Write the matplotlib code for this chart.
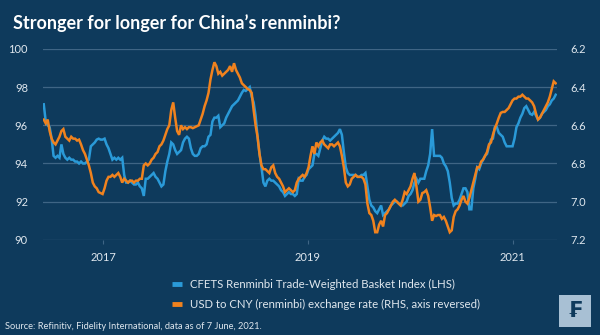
import matplotlib
matplotlib.use("Agg")
import matplotlib.pyplot as plt
import matplotlib.patches as mpatches
from matplotlib.lines import Line2D
import pandas as pd

# ---------------- data ----------------
dates = pd.date_range("2016-06-03", "2021-06-04", freq="W-FRI")

cfets = [
    97.1, 96.2, 96.0, 95.9, 95.3, 94.4, 94.3, 94.4, 94.3, 95.0,
    94.5, 94.3, 94.2, 94.3, 94.2, 94.2, 94.1, 94.1, 94.0, 94.1,
    94.0, 94.0, 94.1, 94.2, 94.9, 95.0, 95.1, 95.25, 95.3, 95.25,
    95.25, 95.3, 95.0, 94.8, 94.5, 94.2, 94.3, 94.2, 94.3, 94.2,
    94.3, 93.4, 93.0, 93.0, 93.1, 93.0, 92.9, 92.9, 93.0, 92.8,
    92.7, 92.3, 93.2, 93.2, 93.3, 93.4, 93.5, 93.3, 93.2, 93.0,
    92.8, 92.9, 93.6, 94.1, 94.5, 95.1, 95.0, 94.7, 94.5, 94.6,
    94.7, 95.1, 95.3, 95.4, 95.3, 94.8, 94.5, 94.4, 94.4, 94.5,
    94.8, 94.9, 94.9, 95.0, 95.4, 95.5, 96.2, 96.4, 96.4, 96.5,
    95.9, 96.0, 96.1, 96.4, 96.6, 96.8, 97.0, 97.1, 97.2, 97.3,
    97.5, 97.7, 97.85, 97.8, 97.9, 98.0, 97.5, 97.2, 96.5, 95.4,
    94.5, 93.8, 93.0, 92.8, 93.1, 93.2, 93.1, 93.1, 93.0, 92.9,
    92.8, 92.6, 92.5, 92.3, 92.4, 92.5, 92.4, 92.4, 92.3, 92.4,
    93.2, 93.1, 93.1, 93.3, 93.4, 93.7, 93.8, 93.9, 94.5, 94.5,
    94.4, 94.8, 95.2, 95.4, 95.3, 95.3, 95.2, 95.3, 95.4, 95.5,
    95.6, 95.8, 95.5, 94.6, 93.8, 93.5, 93.4, 93.4, 93.4, 93.4,
    93.3, 93.3, 93.4, 93.4, 93.5, 92.8, 92.1, 91.8, 91.7, 91.5,
    91.4, 91.6, 91.8, 91.3, 91.4, 91.5, 91.6, 91.8, 91.9, 92.0,
    92.0, 91.9, 91.8, 91.8, 91.9, 92.0, 92.3, 92.4, 92.6, 93.0,
    93.2, 93.0, 93.2, 93.2, 93.2, 93.6, 93.9, 94.5, 95.8, 94.4,
    94.4, 94.4, 94.4, 94.3, 94.0, 93.85, 93.6, 93.0, 92.2, 91.8,
    91.9, 91.9, 92.1, 92.4, 92.7, 92.7, 92.5, 91.6, 91.6, 92.7,
    93.2, 93.8, 93.7, 94.0, 94.2, 94.4, 94.5, 94.9, 95.25, 95.3,
    95.9, 95.9, 95.6, 95.5, 95.4, 95.1, 94.9, 94.9, 94.9, 94.9,
    95.3, 95.9, 96.1, 96.4, 96.6, 96.9, 97.0, 96.8, 96.6, 96.55,
    96.7, 96.5, 96.3, 96.4, 96.6, 96.7, 96.8, 97.0, 97.1, 97.3,
    97.4, 97.6,
]

usdcny = [
    6.570, 6.590, 6.570, 6.630, 6.670, 6.690, 6.700, 6.680, 6.660, 6.630,
    6.620, 6.660, 6.670, 6.680, 6.660, 6.670, 6.670, 6.680, 6.675, 6.700,
    6.730, 6.750, 6.780, 6.810, 6.850, 6.900, 6.920, 6.930, 6.950, 6.955,
    6.960, 6.930, 6.890, 6.870, 6.870, 6.860, 6.870, 6.860, 6.850, 6.870,
    6.900, 6.880, 6.890, 6.900, 6.890, 6.890, 6.900, 6.890, 6.890, 6.880,
    6.880, 6.810, 6.800, 6.810, 6.800, 6.780, 6.770, 6.750, 6.740, 6.710,
    6.700, 6.680, 6.650, 6.620, 6.600, 6.520, 6.480, 6.560, 6.630, 6.650,
    6.600, 6.620, 6.610, 6.620, 6.610, 6.610, 6.615, 6.610, 6.605, 6.600,
    6.570, 6.540, 6.500, 6.470, 6.430, 6.360, 6.310, 6.270, 6.290, 6.330,
    6.320, 6.340, 6.330, 6.320, 6.310, 6.290, 6.320, 6.275, 6.310, 6.330,
    6.350, 6.380, 6.390, 6.400, 6.410, 6.415, 6.430, 6.520, 6.600, 6.660,
    6.750, 6.810, 6.830, 6.830, 6.840, 6.850, 6.820, 6.810, 6.850, 6.870,
    6.880, 6.900, 6.920, 6.950, 6.940, 6.930, 6.940, 6.950, 6.940, 6.900,
    6.880, 6.870, 6.860, 6.870, 6.850, 6.820, 6.760, 6.710, 6.750, 6.690,
    6.710, 6.690, 6.680, 6.700, 6.710, 6.720, 6.700, 6.700, 6.710, 6.700,
    6.690, 6.710, 6.760, 6.820, 6.900, 6.920, 6.910, 6.880, 6.870, 6.860,
    6.870, 6.870, 6.870, 6.880, 6.910, 7.010, 7.060, 7.070, 7.100, 7.160,
    7.160, 7.120, 7.100, 7.130, 7.070, 7.060, 7.040, 7.020, 7.000, 6.990,
    7.000, 7.010, 7.020, 6.990, 6.950, 6.960, 6.940, 6.920, 6.880, 6.850,
    6.920, 7.000, 6.990, 6.955, 6.950, 6.940, 6.970, 7.030, 7.100, 7.070,
    7.075, 7.070, 7.070, 7.090, 7.080, 7.100, 7.130, 7.160, 7.150, 7.080,
    7.050, 7.040, 7.020, 6.990, 6.970, 7.000, 7.010, 6.980, 6.940, 6.900,
    6.860, 6.820, 6.820, 6.790, 6.780, 6.760, 6.740, 6.700, 6.690, 6.650,
    6.615, 6.590, 6.560, 6.535, 6.530, 6.530, 6.520, 6.510, 6.490, 6.470,
    6.460, 6.460, 6.450, 6.450, 6.440, 6.450, 6.460, 6.460, 6.470, 6.480,
    6.500, 6.540, 6.570, 6.560, 6.540, 6.520, 6.500, 6.480, 6.450, 6.410,
    6.370, 6.380,
]

left_ticks = [90, 92, 94, 96, 98, 100]
right_ticks = [6.2, 6.4, 6.6, 6.8, 7.0, 7.2]
year_ticks = ["2017-01-01", "2019-01-01", "2021-01-01"]
year_labels = ["2017", "2019", "2021"]

title = "Stronger for longer for China\u2019s renminbi?"
label_cfets = "CFETS Renminbi Trade-Weighted Basket Index (LHS)"
label_usd = "USD to CNY (renminbi) exchange rate (RHS, axis reversed)"
source = "Source: Refinitiv, Fidelity International, data as of 7 June, 2021."

# ---------------- style ----------------
BG = "#0e3a5c"
GRID = "#3f6585"
TXT = "#dfe7ee"
BLUE = "#2a9ad8"
ORANGE = "#f0821e"

plt.rcParams["font.family"] = ["Lato", "DejaVu Sans"]

fig = plt.figure(figsize=(6.0, 3.35), dpi=100, facecolor=BG)
ax = fig.add_axes([0.072, 0.284, 0.856, 0.570])
ax.set_facecolor(BG)
ax2 = ax.twinx()

ax.plot(dates, cfets, color=BLUE, lw=1.8, zorder=3, solid_joinstyle="miter")
ax2.plot(dates, usdcny, color=ORANGE, lw=1.8, zorder=4, solid_joinstyle="miter")

ax.set_ylim(90, 100)
ax2.set_ylim(7.2, 6.2)
ax.set_yticks(left_ticks)
ax.set_yticklabels([str(v) for v in left_ticks])
ax2.set_yticks(right_ticks)
ax2.set_yticklabels([f"{v:.1f}" for v in right_ticks])

ax.set_xlim(pd.Timestamp("2016-06-01"), pd.Timestamp("2021-06-08"))
ax.set_xticks([pd.Timestamp(d) for d in year_ticks])
ax.set_xticklabels(year_labels)

ax.grid(axis="y", color=GRID, lw=0.9)
ax.set_axisbelow(True)
for a in (ax, ax2):
    for s in a.spines.values():
        s.set_visible(False)
ax.tick_params(axis="y", length=0, pad=11, labelsize=8, labelcolor=TXT)
ax2.tick_params(axis="y", length=0, pad=10, labelsize=8, labelcolor=TXT)
ax.tick_params(axis="x", length=3, color=GRID, pad=6, labelsize=8, labelcolor=TXT)

fig.text(0.021, 0.931, title, color="white", fontsize=13, fontweight="bold",
         va="center", ha="left")

handles = [Line2D([0], [0], color=BLUE, lw=3.5, solid_capstyle="butt"),
           Line2D([0], [0], color=ORANGE, lw=3.5, solid_capstyle="butt")]
leg = fig.legend(handles, [label_cfets, label_usd], loc="center left",
                 bbox_to_anchor=(0.27, 0.121), frameon=False, fontsize=8.2,
                 handlelength=0.85, handletextpad=0.7, labelspacing=0.75)
for t in leg.get_texts():
    t.set_color(TXT)

fig.text(0.008, 0.024, source, color=TXT, fontsize=6.7, va="center", ha="left")

# logo
fig.patches.append(mpatches.Rectangle((559 / 600, 1 - 327 / 335), 32 / 600, 32 / 335,
                                      transform=fig.transFigure, facecolor="#a8c0d4",
                                      edgecolor="none"))
fig.text(575 / 600, 1 - 311 / 335, "\u20a3", color=BG, fontsize=15, fontweight="bold",
         family="DejaVu Sans", ha="center", va="center")

fig.savefig("out.png", dpi=100, facecolor=BG)
